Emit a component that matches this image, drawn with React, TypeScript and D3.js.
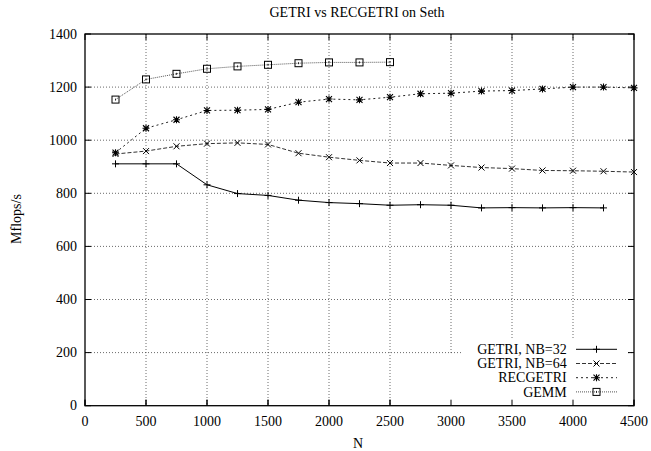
import React from "react";
import * as d3 from "d3";

// Problem sizes
const sizes32 = [250, 500, 750, 1000, 1250, 1500, 1750, 2000, 2250, 2500, 2750, 3000, 3250, 3500, 3750, 4000, 4250];
const sizesFull = [250, 500, 750, 1000, 1250, 1500, 1750, 2000, 2250, 2500, 2750, 3000, 3250, 3500, 3750, 4000, 4250, 4500];
const sizesGemm = [250, 500, 750, 1000, 1250, 1500, 1750, 2000, 2250, 2500];

// Mflops/s per series
const getri32 = [911, 911, 911, 832, 799, 792, 774, 765, 761, 755, 757, 755, 745, 746, 745, 746, 745];
const getri64 = [948, 959, 977, 987, 990, 984, 951, 936, 924, 914, 914, 905, 897, 893, 886, 885, 883, 880];
const recgetri = [953, 1045, 1077, 1112, 1113, 1116, 1143, 1155, 1152, 1162, 1175, 1177, 1185, 1187, 1193, 1200, 1200, 1197];
const gemm = [1153, 1229, 1250, 1269, 1278, 1284, 1290, 1293, 1293, 1294];

const xTicks = [0, 500, 1000, 1500, 2000, 2500, 3000, 3500, 4000, 4500];
const yTicks = [0, 200, 400, 600, 800, 1000, 1200, 1400];

type Marker = "plus" | "cross" | "star" | "box";
interface Series {
  name: string;
  xs: number[];
  ys: number[];
  dash: string | null;
  stroke: string;
  marker: Marker;
}

const series: Series[] = [
  { name: "GETRI, NB=32", xs: sizes32, ys: getri32, dash: null, stroke: "#000", marker: "plus" },
  { name: "GETRI, NB=64", xs: sizesFull, ys: getri64, dash: "4,2", stroke: "#333", marker: "cross" },
  { name: "RECGETRI", xs: sizesFull, ys: recgetri, dash: "2,3", stroke: "#222", marker: "star" },
  { name: "GEMM", xs: sizesGemm, ys: gemm, dash: "1,1", stroke: "#555", marker: "box" },
];

const W = 651;
const H = 451;
const left = 85;
const right = 634;
const top = 34;
const bottom = 405.7;
const textStyle: React.CSSProperties = {
  fontFamily: '"Liberation Serif", "Times New Roman", Tinos, "DejaVu Serif", serif',
  fontSize: "14px",
};

function MarkerShape({ kind, x, y }: { kind: Marker; x: number; y: number }) {
  const s = 3.5;
  const c = 3;
  const plus = `M${x - s},${y}H${x + s}M${x},${y - s}V${y + s}`;
  const cross = `M${x - c},${y - c}L${x + c},${y + c}M${x - c},${y + c}L${x + c},${y - c}`;
  if (kind === "plus") return <path d={plus} stroke="#000" strokeWidth={1} fill="none" />;
  if (kind === "cross") return <path d={cross} stroke="#000" strokeWidth={1} fill="none" />;
  if (kind === "star") return <path d={plus + cross} stroke="#000" strokeWidth={1.1} fill="none" />;
  return (
    <g>
      <rect x={x - 3.5} y={y - 3.5} width={7} height={7} stroke="#000" strokeWidth={1} fill="none" />
      <path d={`M${x},${y - 1}V${y + 1}`} stroke="#000" strokeWidth={0.8} />
    </g>
  );
}

export default function App() {
  const x = d3.scaleLinear().domain([0, 4500]).range([left, right]);
  const y = d3.scaleLinear().domain([0, 1400]).range([bottom, top]);
  const line = d3
    .line<[number, number]>()
    .x((d) => x(d[0]))
    .y((d) => y(d[1]));

  const keyX = 566.7;
  const keyY0 = 349.3;
  const keyStep = 14.2;

  return (
    <svg width={W} height={H} style={{ position: "absolute", left: 0, top: 0 }}>
      <rect width={W} height={H} fill="#fff" />
      {/* grid */}
      {xTicks.slice(1, -1).map((t) => (
        <line key={"gx" + t} x1={x(t)} x2={x(t)} y1={top} y2={bottom} stroke="#444" strokeWidth={0.8} strokeDasharray="1,2" />
      ))}
      {yTicks.slice(1, -1).map((t) => (
        <line key={"gy" + t} x1={left} x2={right} y1={y(t)} y2={y(t)} stroke="#444" strokeWidth={0.8} strokeDasharray="1,2" />
      ))}
      {/* ticks on all four sides */}
      {xTicks.map((t) => (
        <g key={"tx" + t}>
          <line x1={x(t)} x2={x(t)} y1={bottom} y2={bottom - 6} stroke="#000" />
          <line x1={x(t)} x2={x(t)} y1={top} y2={top + 6} stroke="#000" />
          <text x={x(t)} y={426} style={textStyle} textAnchor="middle" fill="#000">
            {t}
          </text>
        </g>
      ))}
      {yTicks.map((t) => (
        <g key={"ty" + t}>
          <line x1={left} x2={left + 6} y1={y(t)} y2={y(t)} stroke="#000" />
          <line x1={right} x2={right - 6} y1={y(t)} y2={y(t)} stroke="#000" />
          <text x={77} y={y(t) + 4.7} style={textStyle} textAnchor="end" fill="#000">
            {t}
          </text>
        </g>
      ))}
      {/* series */}
      {series.map((s) => {
        const pts = s.xs.map((v, i) => [v, s.ys[i]] as [number, number]);
        return (
          <g key={s.name}>
            <path d={line(pts) || ""} fill="none" stroke={s.stroke} strokeWidth={1} strokeDasharray={s.dash || undefined} />
            {pts.map((p, i) => (
              <MarkerShape key={i} kind={s.marker} x={x(p[0])} y={y(p[1])} />
            ))}
          </g>
        );
      })}
      {/* key */}
      <rect x={462} y={340} width={165} height={65} fill="#fff" />
      <rect x={440} y={354} width={22} height={51} fill="#fff" />
      {series.map((s, i) => {
        const ky = keyY0 + i * keyStep;
        return (
          <g key={"k" + s.name}>
            <text x={keyX} y={ky + 4.7} style={textStyle} textAnchor="end" fill="#000">
              {s.name}
            </text>
            <line x1={576} x2={617} y1={ky} y2={ky} stroke={s.stroke} strokeWidth={1} strokeDasharray={s.dash || undefined} />
            <MarkerShape kind={s.marker} x={596.5} y={ky} />
          </g>
        );
      })}
      {/* ticks repainted over the key background */}
      {xTicks.map((t) => (
        <line key={"tb" + t} x1={x(t)} x2={x(t)} y1={bottom} y2={bottom - 6} stroke="#000" />
      ))}
      {/* frame */}
      <rect x={left} y={top} width={right - left} height={bottom - top} fill="none" stroke="#000" strokeWidth={1.3} />
      {/* labels */}
      <text x={357} y={16.7} style={textStyle} textAnchor="middle" fill="#000">
        GETRI vs RECGETRI on Seth
      </text>
      <text x={358} y={448} style={textStyle} textAnchor="middle" fill="#000">
        N
      </text>
      <text transform="translate(21,219) rotate(-90)" style={textStyle} textAnchor="middle" fill="#000">
        Mflops/s
      </text>
    </svg>
  );
}
